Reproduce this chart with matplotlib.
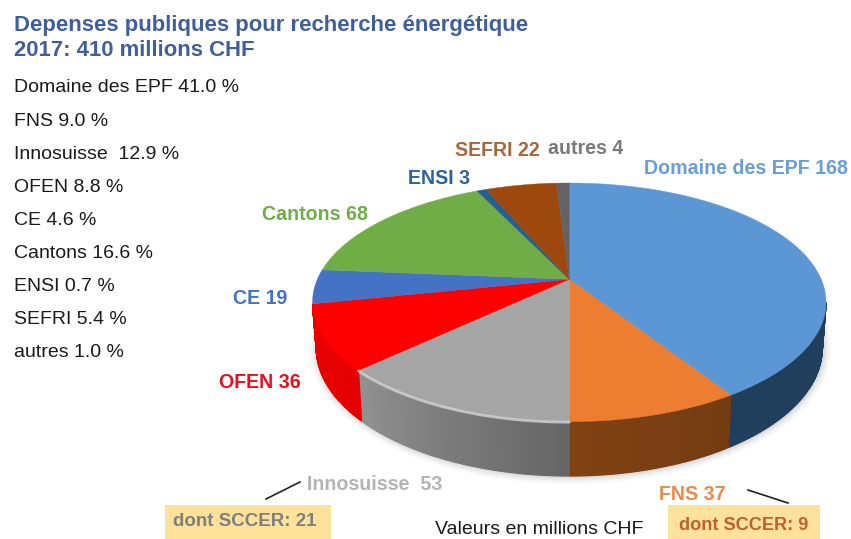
"""
Depenses publiques pour recherche energetique 2017, tilted 3D pie.
"""
import numpy as np
import matplotlib
matplotlib.use('Agg')
import matplotlib.pyplot as plt
from matplotlib.patches import Polygon, Rectangle

plt.rcParams['font.family'] = ['Liberation Sans', 'DejaVu Sans']

# clockwise from 12 o'clock
categories = ['Domaine des EPF', 'FNS', 'Innosuisse', 'OFEN', 'CE', 'Cantons', 'ENSI', 'SEFRI', 'autres']
values = [168, 37, 53, 36, 19, 68, 3, 22, 4]
percents = ['41.0', '9.0', ' 12.9', '8.8', '4.6', '16.6', '0.7', '5.4', '1.0']
top_colors = ['#5b97d5', '#ed7d31', '#a5a5a5', '#ff0000', '#4472c4', '#70ad47', '#255e91', '#9e480e', '#636363']
wall_colors = ['#1f3f5c', '#7a3f12', '#7c7c7c', '#e60000', '#2f4f8c', '#4e7a30', '#1a4060', '#6e320a', '#444444']
label_colors = ['#6a9fd6', '#e98a4a', '#b4b4b4', '#e8101c', '#4472c4', '#70ad47', '#2b6496', '#a8663a', '#7a7a7a']
label_pos = [(746, 169), (692, 494), (375, 484), (260, 382), (260, 299), (315, 214), (439, 179), (497, 151), (586, 149)]
label_names = ['Domaine des EPF 168', 'FNS 37', 'Innosuisse  53', 'OFEN 36', 'CE 19', 'Cantons 68', 'ENSI 3', 'SEFRI 22', 'autres 4']

APEX_X, APEX_Y = 569.3, 279.3
A, B, K = 251.9, 114.9, 0.193   # perspective of the disc
LOW_CY, LOW_RX, LOW_RY = 348, 253, 128   # ellipse of the bottom edge


def rim(theta):
    """Screen position of the disc rim at angle theta (radians, clockwise from top)."""
    u, v = np.sin(theta), np.cos(theta)
    w = 1 + K * v
    return APEX_X + A * u / w, APEX_Y - B * v / w


def low_rim(theta):
    x, _ = rim(theta)
    dx = 0.985 * (x - APEX_X)
    return APEX_X + dx, LOW_CY + LOW_RY * np.sqrt(np.clip(1 - (dx / LOW_RX) ** 2, 0, 1))


def shade(color, f):
    rgb = np.array(matplotlib.colors.to_rgb(color))
    return tuple(np.clip(rgb * f, 0, 1))


fig = plt.figure(figsize=(8.51, 5.39), dpi=100)
ax = fig.add_axes([0, 0, 1, 1])
ax.set_xlim(0, 851)
ax.set_ylim(539, 0)
ax.axis('off')

# soft shadow under the pie
t = np.linspace(0, 2 * np.pi, 200)
for grow, alpha in zip([8, 6, 4, 2], [0.025, 0.03, 0.04, 0.05]):
    ax.add_patch(Polygon(np.c_[APEX_X + 1 + (LOW_RX + grow) * np.sin(t), LOW_CY + (LOW_RY + grow) * np.cos(t)],
                         closed=True, color='black', alpha=alpha, lw=0, zorder=1))

edges = np.cumsum([0] + values) / sum(values) * 2 * np.pi

# walls, only the front shows: from the widest point of the rim to the end of OFEN
wall_start = np.arccos(-K)
wall_end = edges[categories.index('OFEN') + 1]
for i in range(len(values)):
    a0, a1 = max(edges[i], wall_start), min(edges[i + 1], wall_end)
    if a1 <= a0:
        continue
    steps = np.linspace(a0, a1, 60)
    for j in range(len(steps) - 1):
        x0, y0 = rim(steps[j])
        x1, y1 = rim(steps[j + 1])
        x2, y2 = low_rim(steps[j + 1])
        x3, y3 = low_rim(steps[j])
        frac = j / (len(steps) - 2)
        if categories[i] == 'Innosuisse':
            f = 0.82 + 0.35 * frac
        elif categories[i] == 'FNS':
            f = 0.95 + 0.1 * frac
        else:
            f = 1.0
        c = shade(wall_colors[i], f)
        ax.add_patch(Polygon([(x0, y0), (x1, y1), (x2, y2), (x3, y3)], closed=True,
                             fc=c, ec=c, lw=0.9, zorder=2))

# top faces
for i in range(len(values)):
    steps = np.linspace(edges[i], edges[i + 1], 120)
    rx, ry = rim(steps)
    pts = np.r_[[(APEX_X, APEX_Y)], np.c_[rx, ry]]
    ax.add_patch(Polygon(pts, closed=True, fc=top_colors[i], ec=top_colors[i], lw=0.3, zorder=3))

# light edge where the front of the disc catches the light
steps = np.linspace(edges[3], edges[2], 120)
rx, ry = rim(steps)
ax.plot(rx, ry + 0.5, color='#d4d4d4', lw=2.0, alpha=0.8, zorder=4, solid_capstyle='round')

for name, pos, col in zip(label_names, label_pos, label_colors):
    ax.text(pos[0], pos[1], name, color=col, fontsize=14.1, fontweight='bold', ha='center', va='center', zorder=6)

# title and list
ax.text(14, 25, 'Depenses publiques pour recherche énergétique', color='#3f5f9a', fontsize=15.9,
        fontweight='bold', va='center')
ax.text(14, 50, '2017: 410 millions CHF', color='#3f5f9a', fontsize=15.9, fontweight='bold', va='center')
for i, (cat, pct) in enumerate(zip(categories, percents)):
    ax.text(14, 88 + i * 33.1, f'{cat} {pct} %', color='#1a1a1a', fontsize=14.0, va='center')

# SCCER notes
ax.add_patch(Rectangle((165, 505), 166, 34, fc='#ffe29a', ec='none', zorder=5))
ax.text(173, 522, 'dont SCCER: 21', color='#7f7f7f', fontsize=13.5, fontweight='bold', va='center', zorder=6)
ax.add_patch(Rectangle((668, 505), 152, 34, fc='#ffe29a', ec='none', zorder=5))
ax.text(679, 526, 'dont SCCER: 9', color='#c0602a', fontsize=13.1, fontweight='bold', va='center', zorder=6)
ax.text(435, 530, 'Valeurs en millions CHF', color='#1a1a1a', fontsize=14.0, va='center', zorder=6)
ax.plot([266, 300], [499, 482], color='#222222', lw=1.2)
ax.plot([748, 788], [490, 503], color='#222222', lw=1.2)

fig.savefig('out.png', dpi=100)
